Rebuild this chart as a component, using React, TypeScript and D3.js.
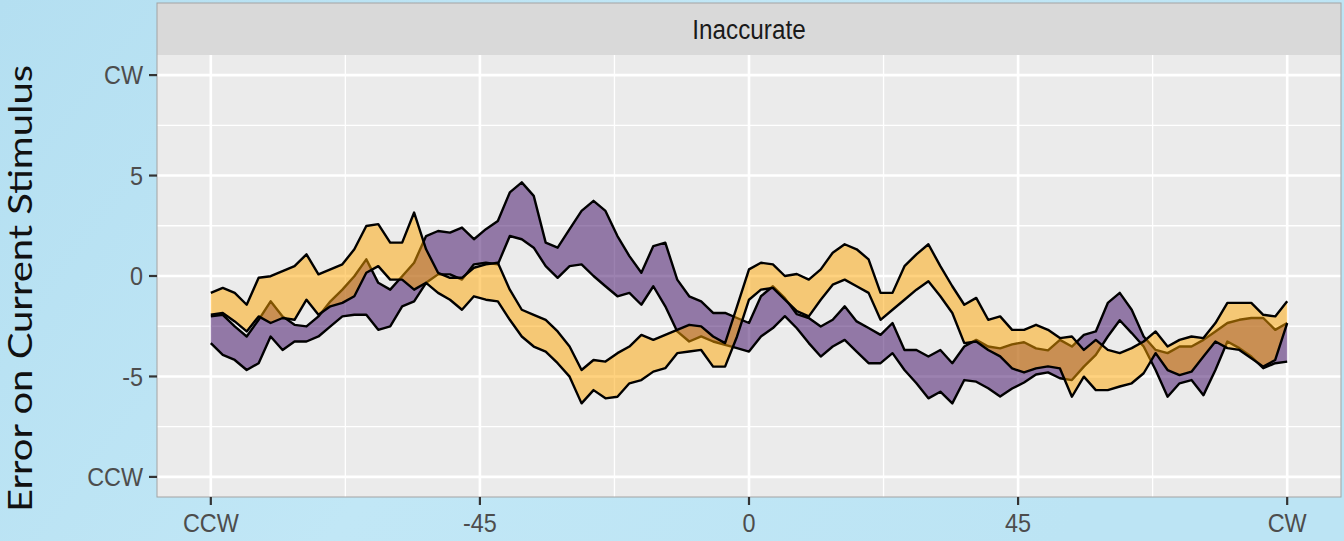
import React, { useEffect } from 'react';
import * as d3 from 'd3';

const W = 1344;
const H = 541;

// offset of the previous stimulus (deg), sampled every 2 degrees
const offsets = d3.range(-90, 91, 2);

// error band bounds
const purpleHigh = [
  -2.01, -1.93, -2.51, -3.01, -2.18, -1.26, -2.01, -2.43, -2.51, -2.01,
  -1.26, -0.68, -0.01, 0.83, -0.34, -0.68, -0.01, 0.66, 1.99, 2.24,
  2.16, 2.41, 1.83, 2.33, 2.74, 4.16, 4.66, 3.99, 1.66, 1.41,
  2.33, 3.24, 3.74, 3.24, 1.99, 0.99, 0.16, 1.49, 1.66, -0.18,
  -1.01, -1.26, -1.84, -1.84, -2.09, -2.34, -1.01, -0.51, -1.1, -1.9,
  -2.09, -2.51, -2.18, -1.51, -2.26, -2.59, -2.93, -2.34, -3.68, -3.68,
  -4.01, -3.68, -4.34, -3.51, -3.18, -3.51, -3.6, -3.4, -3.3, -3.6,
  -3.7, -3.18, -3.51, -2.93, -2.76, -1.34, -0.84, -1.68, -3.01, -3.68,
  -3.84, -3.51, -3.51, -3.18, -2.76, -2.34, -2.18, -2.09, -2.09, -2.68,
  -2.34,
];
const purpleLow = [
  -3.34, -3.93, -4.18, -4.68, -4.34, -3.01, -3.68, -3.26, -3.26, -3.01,
  -2.51, -2.01, -1.93, -1.93, -2.68, -2.51, -1.51, -1.26, -0.34, 0.08,
  0.08, -0.18, 0.58, 0.66, 0.58, 1.99, 1.83, 1.41, 0.49, -0.09,
  0.49, 0.58, 0.0, -0.51, -1.01, -0.84, -1.43, -0.51, -1.51, -2.76,
  -3.26, -3.01, -3.26, -3.43, -3.59, -3.76, -3.01, -2.59, -2.0, -2.6,
  -3.34, -4.01, -3.51, -3.18, -3.76, -4.34, -4.34, -3.84, -4.68, -5.34,
  -6.09, -5.76, -6.34, -5.18, -5.26, -5.59, -6.0, -5.6, -5.3, -4.9,
  -4.8, -5.09, -5.18, -4.51, -3.93, -3.01, -2.2, -2.84, -3.51, -4.68,
  -6.01, -5.34, -5.18, -5.93, -4.68, -3.26, -3.59, -4.01, -4.59, -4.34,
  -4.26,
];
const orangeHigh = [
  -0.84, -0.59, -0.84, -1.43, -0.09, -0.01, 0.24, 0.49, 1.08, 0.08,
  0.33, 0.58, 1.33, 2.49, 2.58, 1.66, 1.66, 3.16, 1.33, 0.16,
  -0.09, -0.09, 0.41, 0.58, 0.66, -0.68, -1.68, -1.93, -2.18, -2.76,
  -3.51, -4.68, -4.18, -4.26, -3.84, -3.51, -2.93, -3.18, -2.93, -2.68,
  -2.43, -2.51, -3.01, -3.34, -1.51, 0.33, 0.66, 0.58, 0.0, 0.1,
  -0.18, 0.33, 1.16, 1.58, 1.33, 0.83, -0.84, -0.84, 0.49, 1.08,
  1.58, 0.49, -0.51, -1.43, -1.09, -2.18, -2.01, -2.68, -2.68, -2.43,
  -2.68, -3.09, -3.01, -3.68, -3.18, -3.68, -3.84, -3.59, -3.26, -2.76,
  -3.51, -3.18, -3.01, -3.09, -2.34, -1.34, -1.34, -1.34, -1.93, -2.01,
  -1.26,
];
const orangeLow = [
  -1.93, -1.84, -2.26, -2.76, -2.01, -2.34, -2.09, -2.18, -1.18, -1.93,
  -1.51, -1.34, -1.01, 0.16, 0.49, -0.18, -0.18, -0.68, -0.34, -0.84,
  -1.18, -1.68, -1.01, -1.18, -1.26, -2.18, -3.01, -3.51, -3.76, -4.34,
  -5.01, -6.34, -5.68, -6.09, -6.01, -5.34, -5.18, -4.76, -4.59, -3.84,
  -3.76, -3.68, -4.51, -4.51, -3.01, -1.18, -0.68, -0.59, -1.18, -1.75,
  -2.01, -1.18, -0.43, -0.18, -0.51, -0.84, -2.18, -1.68, -1.18, -0.68,
  -0.26, -1.01, -1.84, -3.34, -3.26, -3.68, -4.0, -4.6, -4.8, -4.6,
  -4.5, -4.6, -6.01, -5.01, -5.68, -5.68, -5.5, -5.34, -4.84, -3.84,
  -4.68, -4.93, -4.76, -4.01, -3.26, -3.59, -3.68, -4.09, -4.51, -4.18,
  -2.34,
];

const xTicks = [-90, -45, 0, 45, 90];
const xTickLabels = ['CCW', '-45', '0', '45', 'CW'];
const xMinor = [-67.5, -22.5, 22.5, 67.5];
const yTicks = [10, 5, 0, -5, -10];
const yTickLabels = ['CW', '5', '0', '-5', 'CCW'];
const yMinor = [7.5, 2.5, -2.5, -7.5];

const sans = "'Liberation Sans', Arial, Helvetica, sans-serif";

export default function App() {
  useEffect(() => {
    document.body.style.margin = '0';
  }, []);

  // panel box
  const left = 157, right = 1341, top = 55, bottom = 497, stripTop = 3;

  const x = d3.scaleLinear().domain([-99, 99]).range([left, right]);
  const y = d3.scaleLinear().domain([-11, 11]).range([bottom, top]);

  const bands = [
    { key: 'purple', low: purpleLow, high: purpleHigh, fill: '#3a0561' },
    { key: 'orange', low: orangeLow, high: orangeHigh, fill: '#ffa500' },
  ];

  const area = (lo: number[], hi: number[]) =>
    d3.area<number>()
      .x(d => x(d))
      .y0((d, i) => y(lo[i]))
      .y1((d, i) => y(hi[i]))(offsets);

  const line = (vals: number[]) =>
    d3.line<number>()
      .x((d, i) => x(offsets[i]))
      .y(d => y(d))(vals);

  return (
    <svg width={W} height={H} style={{ position: 'absolute', left: 0, top: 0, display: 'block' }}>
      <defs>
        <linearGradient id="bg" x1="0" y1="0" x2="1" y2="0.3">
          <stop offset="0" stopColor="#b4dff1" />
          <stop offset="0.5" stopColor="#c1e7f6" />
          <stop offset="1" stopColor="#bce4f4" />
        </linearGradient>
      </defs>
      <rect width={W} height={H} fill="url(#bg)" />

      {/* strip + panel */}
      <rect x={left} y={stripTop} width={right - left} height={top - stripTop} fill="#d9d9d9" />
      <rect x={left} y={top} width={right - left} height={bottom - top} fill="#ebebeb" />

      {/* grid */}
      {yMinor.map(v => (
        <line key={'ym' + v} x1={left} x2={right} y1={y(v)} y2={y(v)} stroke="#fff" strokeWidth={1.3} />
      ))}
      {xMinor.map(v => (
        <line key={'xm' + v} x1={x(v)} x2={x(v)} y1={top} y2={bottom} stroke="#fff" strokeWidth={1.3} />
      ))}
      {yTicks.map(v => (
        <line key={'yg' + v} x1={left} x2={right} y1={y(v)} y2={y(v)} stroke="#fff" strokeWidth={2.6} />
      ))}
      {xTicks.map(v => (
        <line key={'xg' + v} x1={x(v)} x2={x(v)} y1={top} y2={bottom} stroke="#fff" strokeWidth={2.6} />
      ))}

      {/* ribbons: fill then outline, orange on top */}
      {bands.map(b => (
        <g key={b.key}>
          <path d={area(b.low, b.high) || ''} fill={b.fill} fillOpacity={0.5} />
          <path d={line(b.high) || ''} fill="none" stroke="#000" strokeWidth={2.4} strokeLinejoin="round" />
          <path d={line(b.low) || ''} fill="none" stroke="#000" strokeWidth={2.4} strokeLinejoin="round" />
        </g>
      ))}

      {/* outer border */}
      <rect x={left} y={stripTop} width={right - left} height={bottom - stripTop} fill="none" stroke="#a3a3a3" strokeWidth={1} />

      <g transform={`translate(${(left + right) / 2},38.5) scale(0.9,1)`}>
        <text textAnchor="middle" fontFamily={sans} fontSize={27} fill="#1a1a1a">Inaccurate</text>
      </g>

      {/* axes */}
      {yTicks.map((v, i) => (
        <g key={'yt' + v}>
          <line x1={left - 8} x2={left} y1={y(v)} y2={y(v)} stroke="#333" strokeWidth={2.2} />
          <g transform={`translate(${left - 14},${y(v) + 9.3}) scale(0.9,1)`}>
            <text textAnchor="end" fontFamily={sans} fontSize={26} fill="#4d4d4d">{yTickLabels[i]}</text>
          </g>
        </g>
      ))}
      {xTicks.map((v, i) => (
        <g key={'xt' + v}>
          <line x1={x(v)} x2={x(v)} y1={bottom} y2={bottom + 8} stroke="#333" strokeWidth={2.2} />
          <g transform={`translate(${x(v)},531.5) scale(0.9,1)`}>
            <text textAnchor="middle" fontFamily={sans} fontSize={26} fill="#4d4d4d">{xTickLabels[i]}</text>
          </g>
        </g>
      ))}

      <text
        transform="translate(32,288.5) rotate(-90)"
        textAnchor="middle"
        fontFamily="Lato, 'Open Sans', sans-serif"
        fontSize={32}
        fill="#111"
        textLength={447}
        lengthAdjust="spacingAndGlyphs"
      >
        Error on Current Stimulus
      </text>
    </svg>
  );
}
